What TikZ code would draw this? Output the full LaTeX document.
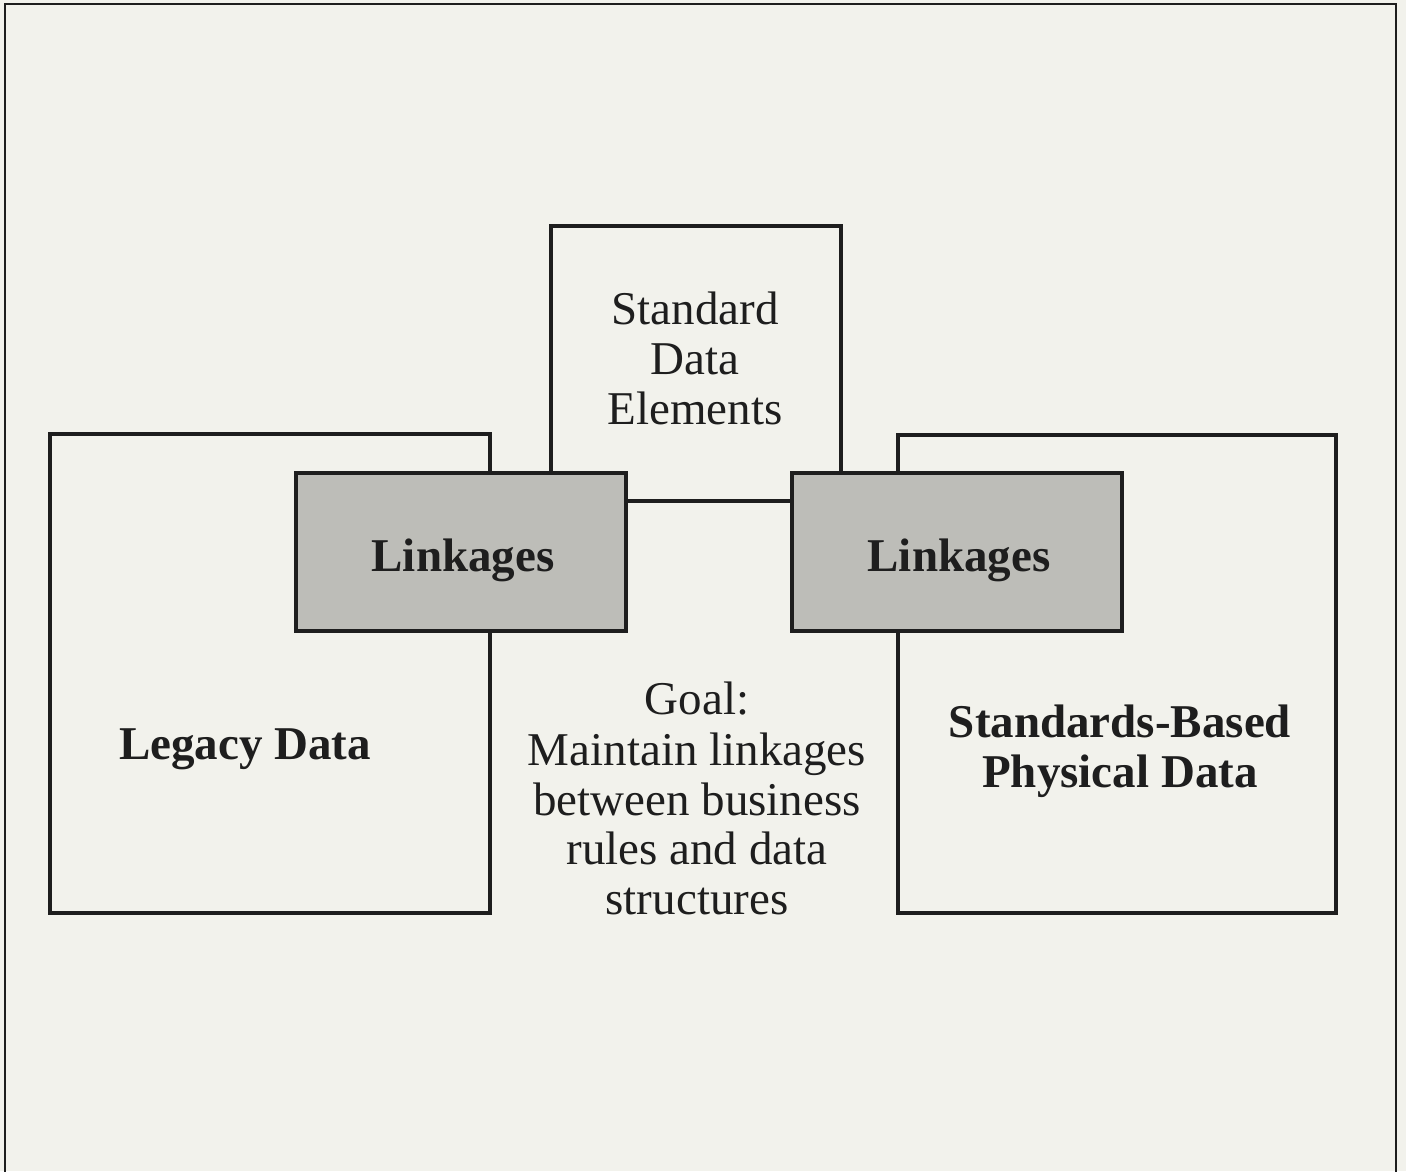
\documentclass[tikz,border=0pt]{standalone}
\usepackage{fontspec}
\setmainfont{Liberation Serif}
\definecolor{paper}{HTML}{F2F2EC}
\definecolor{stipple}{HTML}{BDBDB8}
\definecolor{ink}{HTML}{1E1E1E}
\begin{document}
\begin{tikzpicture}[x=1pt,y=1pt,
  box/.style={draw=ink, line width=3.5pt, fill=paper, inner sep=0pt},
  linkbox/.style={box, fill=stipple},
  plain/.style={font=\fontsize{47}{50}\selectfont, align=center, inner sep=0pt, text=ink},
  heavy/.style={plain, font=\fontsize{47}{50}\selectfont\bfseries}]
% page background and the open outer frame
\fill[paper] (0,0) rectangle (1406,1171);
\useasboundingbox (0,0) rectangle (1406,1171);
\draw[line width=2pt, ink] (5,-5) -- (5,1167) -- (1396,1167) -- (1396,-5);

% main boxes
\node[box, minimum width=440pt, minimum height=479pt] (legacy) at (270,497.5) {};
\node[box, minimum width=290pt, minimum height=275pt] (sde) at (696,807.5) {};
\node[box, minimum width=438pt, minimum height=478pt] (phys) at (1117,497) {};

% shaded linkage boxes laid over the edges
\node[linkbox, minimum width=330pt, minimum height=158pt] (linkL) at (461,619) {};
\node[linkbox, minimum width=330pt, minimum height=158pt] (linkR) at (957,619) {};

% labels (multi-line nodes sit on the baseline of their last line)
\node[plain, anchor=base] (sdetext) at (695,746) {Standard\\Data\\Elements};
\node[heavy, anchor=base] (linkLtext) at (463,599) {Linkages};
\node[heavy, anchor=base] (linkRtext) at (959,599) {Linkages};
\node[heavy, anchor=base] (legacytext) at (245,411) {Legacy Data};
\node[heavy, anchor=base] (phystext) at (1120,383) {Standards-Based\\Physical Data};
\node[plain, anchor=base] (goal) at (697,256) {Goal:\\Maintain linkages\\between business\\rules and data\\structures};
\end{tikzpicture}
\end{document}
